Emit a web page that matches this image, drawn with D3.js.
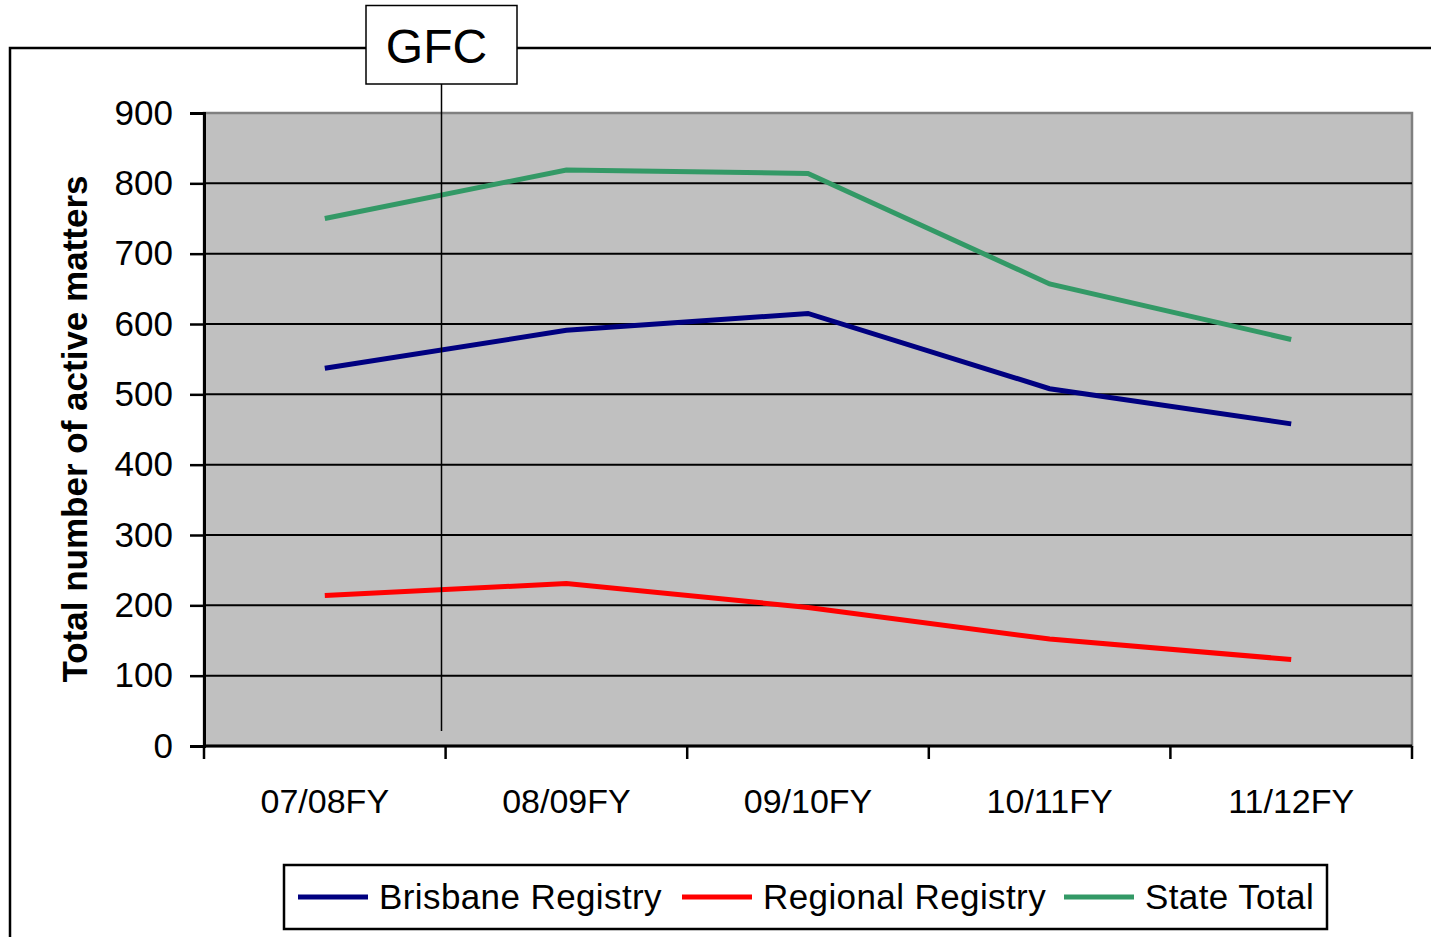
<!DOCTYPE html>
<html>
<head>
<meta charset="utf-8">
<script src="https://cdn.jsdelivr.net/npm/d3@7"></script>
<style>
  body { margin: 0; background: #fff; }
  text { font-family: "Liberation Sans", Arial, sans-serif; fill: #000; }
</style>
</head>
<body>
<div id="chart"></div>
<script>
// data
const years = ['07/08FY', '08/09FY', '09/10FY', '10/11FY', '11/12FY']
const brisbane = [537, 591, 615, 508, 458]
const regional = [214, 231, 197, 152, 123]
const stateTotal = [750, 819, 814, 657, 578]
const yTicks = [0, 100, 200, 300, 400, 500, 600, 700, 800, 900]

const series = [
  { name: 'Brisbane Registry', color: '#000080', values: brisbane },
  { name: 'Regional Registry', color: '#ff0000', values: regional },
  { name: 'State Total', color: '#339966', values: stateTotal }
]

const W = 1431, H = 937
const plot = { left: 204, right: 1412, top: 113, bottom: 746 }

const svg = d3.select('#chart').append('svg')
    .attr('width', W)
    .attr('height', H)

// outer chart frame (partly cropped)
svg.append('path')
    .attr('d', `M10,${H + 5} L10,48 L${W + 5},48`)
    .attr('fill', 'none')
    .attr('stroke', '#000')
    .attr('stroke-width', 2.5)

var x = d3.scaleBand().domain(years).range([plot.left, plot.right])
var y = d3.scaleLinear().domain([0, 900]).range([plot.bottom, plot.top])

// plot area
svg.append('rect')
    .attr('x', plot.left).attr('y', plot.top)
    .attr('width', plot.right - plot.left)
    .attr('height', plot.bottom - plot.top)
    .attr('fill', '#c0c0c0')
    .attr('stroke', '#808080')
    .attr('stroke-width', 2.5)

// gridlines
svg.append('g').selectAll('line')
    .data(yTicks.filter(d => d > 0 && d < 900))
  .enter().append('line')
    .attr('x1', plot.left).attr('x2', plot.right)
    .attr('y1', d => y(d)).attr('y2', d => y(d))
    .attr('stroke', '#000')
    .attr('stroke-width', 2)

// y axis
var yAxis = d3.axisLeft(y).tickValues(yTicks).tickSize(14).tickPadding(17)
var gy = svg.append('g')
    .attr('transform', `translate(${plot.left},0)`)
    .call(yAxis)
gy.select('.domain').attr('stroke', '#000').attr('stroke-width', 3)
gy.selectAll('.tick line').attr('stroke', '#000').attr('stroke-width', 2.5)
gy.selectAll('.tick text')
    .style('font-family', '"Liberation Sans", Arial, sans-serif')
    .style('font-size', '35px')
    .attr('fill', '#000')

// x axis: ticks on band boundaries
var gx = svg.append('g')
    .attr('transform', `translate(0,${plot.bottom})`)
gx.append('line')
    .attr('x1', plot.left).attr('x2', plot.right)
    .attr('stroke', '#000').attr('stroke-width', 3)
var bounds = years.map(d => x(d)).concat([plot.right])
gx.selectAll('line.tk').data(bounds)
  .enter().append('line')
    .attr('class', 'tk')
    .attr('x1', d => d).attr('x2', d => d)
    .attr('y1', 0).attr('y2', 13)
    .attr('stroke', '#000').attr('stroke-width', 2.5)
gx.selectAll('text').data(years)
  .enter().append('text')
    .attr('x', d => x(d) + x.bandwidth() / 2)
    .attr('y', 67)
    .attr('text-anchor', 'middle')
    .style('font-size', '34px')
    .text(d => d)

// y axis title
svg.append('text')
    .attr('transform', 'translate(87,429) rotate(-90)')
    .attr('text-anchor', 'middle')
    .style('font-size', '35px')
    .style('font-weight', 'bold')
    .text('Total number of active matters')

// lines
var line = d3.line()
    .x((d, i) => x(years[i]) + x.bandwidth() / 2)
    .y(d => y(d))

svg.append('g').selectAll('path')
    .data(series)
  .enter().append('path')
    .attr('d', d => line(d.values))
    .attr('fill', 'none')
    .attr('stroke', d => d.color)
    .attr('stroke-width', 5)

// GFC marker
svg.append('line')
    .attr('x1', 441.5).attr('x2', 441.5)
    .attr('y1', 84).attr('y2', 731)
    .attr('stroke', '#000')
    .attr('stroke-width', 1.5)
svg.append('rect')
    .attr('x', 366).attr('y', 5.5)
    .attr('width', 151).attr('height', 78.5)
    .attr('fill', '#fff')
    .attr('stroke', '#000')
    .attr('stroke-width', 1.5)
svg.append('text')
    .attr('x', 436.5).attr('y', 63)
    .attr('text-anchor', 'middle')
    .style('font-size', '48px')
    .text('GFC')

// legend
var legend = svg.append('g')
legend.append('rect')
    .attr('x', 284).attr('y', 865)
    .attr('width', 1043).attr('height', 64)
    .attr('fill', '#fff')
    .attr('stroke', '#000')
    .attr('stroke-width', 2.5)
var legendX = [298, 682, 1064]
var item = legend.selectAll('g.item').data(series)
  .enter().append('g')
    .attr('class', 'item')
    .attr('transform', (d, i) => `translate(${legendX[i]},897)`)
item.append('line')
    .attr('x1', 0).attr('x2', 70)
    .attr('stroke', d => d.color)
    .attr('stroke-width', 5)
item.append('text')
    .attr('x', 81).attr('y', 12)
    .style('font-size', '35px')
    .style('letter-spacing', '0.4px')
    .text(d => d.name)
</script>
</body>
</html>
